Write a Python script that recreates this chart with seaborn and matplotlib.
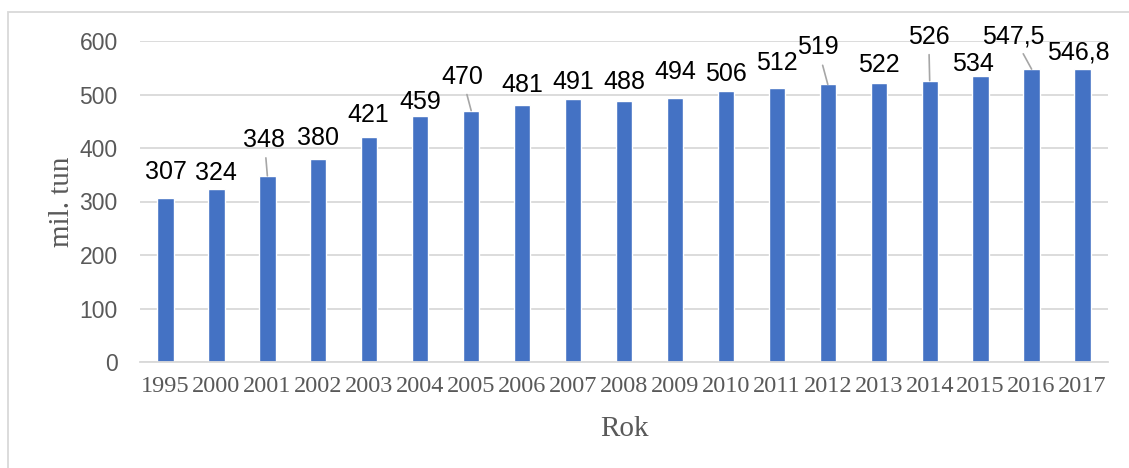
import seaborn as sns
import pandas as pd
import matplotlib.pyplot as plt
from matplotlib.patches import Rectangle

years = ['1995', '2000', '2001', '2002', '2003', '2004', '2005', '2006', '2007', '2008',
         '2009', '2010', '2011', '2012', '2013', '2014', '2015', '2016', '2017']
values = [307, 324, 348, 380, 421, 459, 470, 481, 491, 488,
          494, 506, 512, 519, 522, 526, 534, 547.5, 546.8]
labels = ['307', '324', '348', '380', '421', '459', '470', '481', '491', '488',
          '494', '506', '512', '519', '522', '526', '534', '547,5', '546,8']

# label offsets (pixels) from bar top, and which labels have a leader line
label_dx = [0, 0, -3, 0, -1, 0, -9, 0, 0, 0, 0, 0, 0, -10, 0, -1, -8, -18, -4]
label_dy = [26, 16, 36, 21, 22, 14, 34, 20, 17, 19, 26, 17, 25, 37, 18, 44, 12, 33, 17]
leader = [False, False, True, False, False, False, True, False, False, False,
          False, False, False, True, False, True, False, True, False]

data = pd.DataFrame({'Rok': years, 'mil. tun': values})

sns.set_style('white')
fig = plt.figure(figsize=(11.29, 4.68), dpi=100)
ax = fig.add_axes([140 / 1129, 1 - 362 / 468, 968 / 1129, 321 / 468])

sns.barplot(x='Rok', y='mil. tun', data=data, color='#4472C4', saturation=1,
            width=0.32, ax=ax)

ax.set_ylim(0, 600)
ax.set_yticks(range(0, 601, 100))
ax.grid(axis='y', color='#D9D9D9', linewidth=1.3)
ax.set_axisbelow(True)
for s in ['top', 'right', 'left']:
    ax.spines[s].set_visible(False)
ax.spines['bottom'].set_color('#D9D9D9')
ax.spines['bottom'].set_linewidth(1.3)
ax.tick_params(axis='both', length=0)
ax.tick_params(axis='y', pad=16)
for t in ax.get_yticklabels():
    t.set_fontfamily('Liberation Sans')
    t.set_fontsize(16.5)
    t.set_color('#595959')
for t in ax.get_xticklabels():
    t.set_fontfamily('Liberation Serif')
    t.set_fontsize(17.5)
    t.set_color('#595959')
ax.tick_params(axis='x', pad=10)

ax.set_xlabel('Rok', fontfamily='Liberation Serif', fontsize=21, color='#595959', labelpad=14)
ax.set_ylabel('mil. tun', fontfamily='Liberation Serif', fontsize=21, color='#595959', labelpad=3)

for i, v in enumerate(values):
    arrow = dict(arrowstyle='-', color='#A6A6A6', lw=1.2, shrinkA=2, shrinkB=0) if leader[i] else None
    ax.annotate(labels[i], xy=(i, v), xytext=(label_dx[i], label_dy[i]),
                textcoords='offset pixels', ha='center', va='center',
                fontfamily='Liberation Sans', fontsize=18, color='black',
                arrowprops=arrow)

fig.patches.append(Rectangle((8 / 1129, -0.1), 1.2, 1 - 12 / 468 + 0.1, transform=fig.transFigure,
                             fill=False, edgecolor='#D9D9D9', linewidth=1.3))

fig.savefig('out.png', dpi=100)
